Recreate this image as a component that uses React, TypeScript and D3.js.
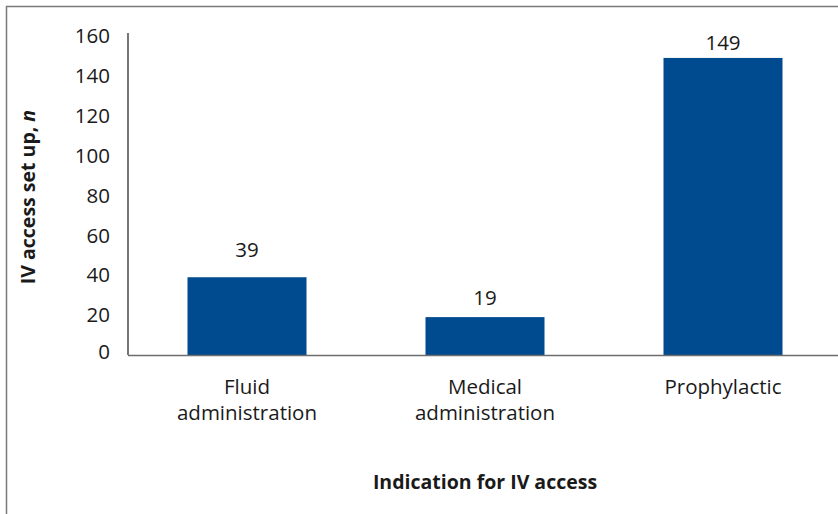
import React from "react";
import * as d3 from "d3";

const categories: string[][] = [["Fluid", "administration"], ["Medical", "administration"], ["Prophylactic"]];
const values: number[] = [39, 19, 149];
const yTicks: number[] = [0, 20, 40, 60, 80, 100, 120, 140, 160];
const yTitle = "IV access set up, ";
const yTitleItalic = "n";
const xTitle = "Indication for IV access";

// label gap above each bar (style, px)
const labelGap: number[] = [20, 12, 8];

const W = 838, H = 514;
const FONT = "'Open Sans', 'Noto Sans', sans-serif";
const FS = 20.5;
const FT = 19.5;

export default function App() {
  const x = d3.scaleBand<number>().domain(values.map((_, i) => i)).range([128, 842]).paddingInner(0.5).paddingOuter(0.25);
  const y = d3.scaleLinear().domain([0, 160]).range([355, 36]);
  return (
    <svg width={W} height={H} style={{ position: "absolute", left: 0, top: 0, display: "block" }} fontFamily={FONT}>
      <rect x={0} y={0} width={W} height={H} fill="#fff" />
      <path d={`M6.5,${H} V6.5 H${W}`} fill="none" stroke="#7a7a7a" strokeWidth={1.5} />
      {values.map((v, i) => (
        <g key={i}>
          <rect x={x(i)} y={y(v)} width={x.bandwidth()} height={y(0) - y(v)} fill="#004A8F" />
          <text x={x(i)! + x.bandwidth() / 2} y={y(v) - labelGap[i]} textAnchor="middle" fontSize={FS} fill="#1a1a1a">{v}</text>
          {categories[i].map((line, j) => (
            <text key={j} x={x(i)! + x.bandwidth() / 2} y={394 + j * 26} textAnchor="middle" fontSize={FS} fill="#1a1a1a">{line}</text>
          ))}
        </g>
      ))}
      <line x1={128} x2={128} y1={33} y2={355} stroke="#1a1a1a" strokeWidth={1.2} />
      <line x1={128} x2={W} y1={355.5} y2={355.5} stroke="#6e6e6e" strokeWidth={1.5} />
      {yTicks.map((t) => (
        <text key={t} x={110} y={y(t) - (t === 0 ? 3 : 0)} dy="0.35em" textAnchor="end" fontSize={FS} fill="#1a1a1a">{t}</text>
      ))}
      <text transform={`translate(35,${197}) rotate(-90)`} textAnchor="middle" fontSize={FT} fontWeight="bold" fill="#1a1a1a">
        {yTitle}<tspan fontStyle="italic">{yTitleItalic}</tspan>
      </text>
      <text x={485} y={489} textAnchor="middle" fontSize={FT} fontWeight="bold" fill="#1a1a1a">{xTitle}</text>
    </svg>
  );
}
